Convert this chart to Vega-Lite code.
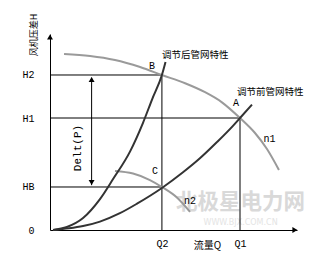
{
  "$schema": "https://vega.github.io/schema/vega-lite/v6.json",
  "width": 247,
  "height": 196,
  "autosize": {"type": "none"},
  "padding": {"left": 50, "top": 34, "right": 17, "bottom": 24},
  "background": "white",
  "config": {"view": {"stroke": null}},
  "datasets": {
    "curves": [
      {"s": "n1", "q": 7.4, "h": 157.1}, {"s": "n1", "q": 21.1, "h": 155.4}, {"s": "n1", "q": 34.2, "h": 151.8},
      {"s": "n1", "q": 47.4, "h": 145.5}, {"s": "n1", "q": 58.9, "h": 138.4}, {"s": "n1", "q": 71.1, "h": 131.0},
      {"s": "n1", "q": 81.6, "h": 123.0}, {"s": "n1", "q": 90.5, "h": 114.0}, {"s": "n1", "q": 100, "h": 100},
      {"s": "n1", "q": 107.9, "h": 86.6}, {"s": "n1", "q": 114.2, "h": 72.3}, {"s": "n1", "q": 120.5, "h": 53.6},
      {"s": "n2", "q": 34.2, "h": 52.7}, {"s": "n2", "q": 43.7, "h": 50.4}, {"s": "n2", "q": 52.6, "h": 44.6},
      {"s": "n2", "q": 58.9, "h": 38.4}, {"s": "n2", "q": 66.8, "h": 29.0}, {"s": "n2", "q": 73.7, "h": 16.1},
      {"s": "after", "q": 1.6, "h": 0}, {"s": "after", "q": 8.9, "h": 2.7}, {"s": "after", "q": 17.4, "h": 10.7},
      {"s": "after", "q": 26.3, "h": 27.6}, {"s": "after", "q": 33.2, "h": 45.5}, {"s": "after", "q": 42.1, "h": 70.0},
      {"s": "after", "q": 48.9, "h": 95.5}, {"s": "after", "q": 53.7, "h": 116.5}, {"s": "after", "q": 58.9, "h": 138.4},
      {"s": "after", "q": 60.8, "h": 150},
      {"s": "before", "q": 1.6, "h": 0}, {"s": "before", "q": 10, "h": 1.5}, {"s": "before", "q": 17.4, "h": 3.5},
      {"s": "before", "q": 26.3, "h": 7.5}, {"s": "before", "q": 36.8, "h": 15}, {"s": "before", "q": 45.8, "h": 23.5},
      {"s": "before", "q": 58.9, "h": 37.5}, {"s": "before", "q": 70, "h": 51.5}, {"s": "before", "q": 78.9, "h": 64},
      {"s": "before", "q": 87.9, "h": 78.5}, {"s": "before", "q": 96.3, "h": 93}, {"s": "before", "q": 100, "h": 100},
      {"s": "before", "q": 106.3, "h": 112}
    ],
    "refs": [
      {"q1": 0, "q2": 58.9, "h1": 138.4, "h2": 138.4},
      {"q1": 0, "q2": 100, "h1": 100, "h2": 100},
      {"q1": 0, "q2": 58.9, "h1": 38.4, "h2": 38.4},
      {"q1": 58.9, "q2": 58.9, "h1": 0, "h2": 138.4},
      {"q1": 100, "q2": 100, "h1": 0, "h2": 100},
      {"q1": 21.9, "q2": 21.9, "h1": 40, "h2": 136}
    ],
    "arrows": [
      {"q": 0, "h": 172.3, "shape": "triangle-up"},
      {"q": 128.9, "h": 0, "shape": "triangle-right"},
      {"q": 21.9, "h": 134.4, "shape": "triangle-up"},
      {"q": 21.9, "h": 42.4, "shape": "triangle-down"}
    ],
    "cjk": [
      {"q": 58.9, "h": 156.3, "t": "调节后管网特性"},
      {"q": 98.4, "h": 123.2, "t": "调节前管网特性"}
    ],
    "letters": [
      {"q": 97.9, "h": 113.4, "t": "A"},
      {"q": 53.7, "h": 146.4, "t": "B"},
      {"q": 55.3, "h": 52.7, "t": "C"},
      {"q": 115.5, "h": 81.3, "t": "n1"},
      {"q": 73.7, "h": 25.9, "t": "n2"}
    ],
    "delt": [{"q": 14.7, "h": 73.2, "t": "Delt(P)"}],
    "wm": [{"q": 100.3, "h": 24.1, "t": "北极星电力网"}],
    "wm2": [{"q": 100.3, "h": 6.5, "t": "WWW.BJX.COM.CN"}]
  },
  "encoding": {
    "x": {"field": "q", "type": "quantitative", "scale": {"domain": [0, 130], "nice": false, "zero": false}},
    "y": {"field": "h", "type": "quantitative", "scale": {"domain": [0, 175], "nice": false, "zero": false}}
  },
  "layer": [
    {
      "data": {"name": "wm"},
      "mark": {"type": "text", "font": "Noto Sans CJK SC", "fontSize": 21.5, "fontWeight": "bold", "color": "#d9d9d9", "align": "center", "baseline": "middle"},
      "encoding": {"text": {"field": "t"}}
    },
    {
      "data": {"name": "wm2"},
      "mark": {"type": "text", "font": "DejaVu Sans", "fontSize": 8, "color": "#e4e4e4", "align": "center", "baseline": "middle", "letterSpacing": 2},
      "encoding": {"text": {"field": "t"}}
    },
    {
      "data": {"name": "refs"},
      "mark": {"type": "rule", "color": "black", "strokeWidth": 1},
      "encoding": {
        "x": {"field": "q1", "type": "quantitative", "scale": {"domain": [0, 130], "nice": false, "zero": false},
          "axis": {"values": [58.9, 100], "labelExpr": "datum.value < 80 ? 'Q2' : 'Q1'", "ticks": false, "grid": false,
            "domainColor": "black", "domainWidth": 1, "labelPadding": 8, "labelBaseline": "top", "labelFont": "Liberation Mono", "labelFontSize": 10, "labelColor": "black",
            "title": "流量Q", "titleFont": "Noto Sans CJK SC", "titleFontSize": 10, "titleFontWeight": "normal", "titleColor": "black",
            "titleX": 157, "titleY": 15.5, "titleBaseline": "middle", "titleAlign": "center", "titleAnchor": null}},
        "x2": {"field": "q2"},
        "y": {"field": "h1", "type": "quantitative", "scale": {"domain": [0, 175], "nice": false, "zero": false},
          "axis": {"values": [0, 38.4, 100, 138.4], "labelExpr": "datum.value == 0 ? '0' : datum.value < 50 ? 'HB' : datum.value < 120 ? 'H1' : 'H2'",
            "ticks": false, "grid": false, "domainColor": "black", "domainWidth": 1, "labelPadding": 16, "labelFont": "Liberation Mono", "labelFontSize": 10, "labelColor": "black",
            "title": "风机压差H", "titleFont": "Noto Sans CJK SC", "titleFontSize": 9, "titleFontWeight": "normal", "titleColor": "black",
            "titleX": -16.5, "titleY": 0.5, "titleAngle": 270, "titleBaseline": "middle", "titleAlign": "center", "titleAnchor": null}},
        "y2": {"field": "h2"}
      }
    },
    {
      "data": {"name": "curves"},
      "mark": {"type": "line", "interpolate": "monotone", "strokeWidth": 2},
      "encoding": {
        "color": {"field": "s", "type": "nominal", "scale": {"domain": ["after", "before", "n1", "n2"], "range": ["#333333", "#333333", "#9a9a9a", "#9a9a9a"]}, "legend": null},
        "order": {"field": "q", "type": "quantitative"}
      }
    },
    {
      "data": {"name": "arrows"},
      "mark": {"type": "point", "filled": true, "color": "black", "size": 35, "opacity": 1},
      "encoding": {"shape": {"field": "shape", "type": "nominal", "scale": null}}
    },
    {
      "data": {"name": "cjk"},
      "mark": {"type": "text", "font": "Noto Sans CJK SC", "fontSize": 9.5, "color": "black", "align": "left", "baseline": "middle"},
      "encoding": {"text": {"field": "t"}}
    },
    {
      "data": {"name": "letters"},
      "mark": {"type": "text", "font": "Liberation Mono", "fontSize": 10, "color": "black", "align": "center", "baseline": "middle"},
      "encoding": {"text": {"field": "t"}}
    },
    {
      "data": {"name": "delt"},
      "mark": {"type": "text", "font": "Liberation Mono", "fontSize": 11, "color": "black", "align": "center", "baseline": "middle", "angle": 270},
      "encoding": {"text": {"field": "t"}}
    }
  ]
}
